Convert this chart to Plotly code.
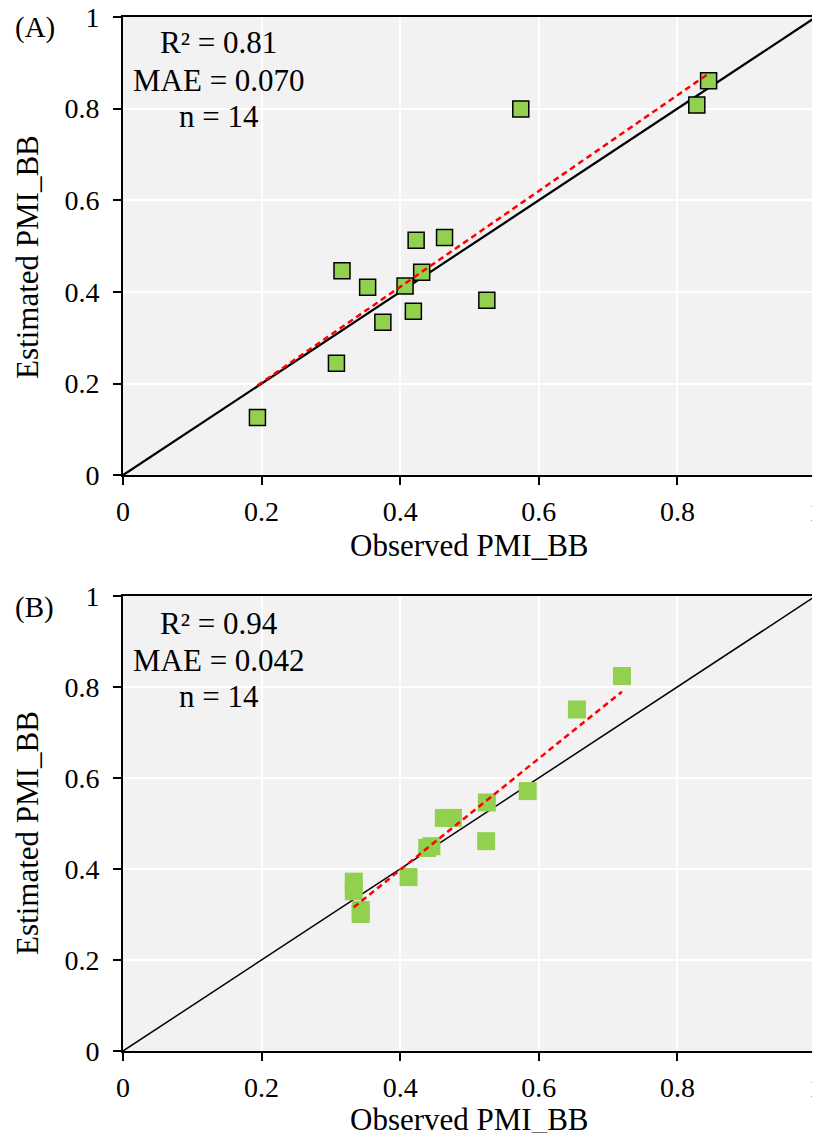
import numpy as np
import plotly.graph_objects as go

# Panel A data
obs_a = [0.194, 0.308, 0.316, 0.353, 0.375, 0.407, 0.419, 0.423, 0.431, 0.464, 0.525, 0.574, 0.828, 0.845]
est_a = [0.126, 0.244, 0.446, 0.410, 0.334, 0.413, 0.358, 0.513, 0.443, 0.519, 0.382, 0.799, 0.808, 0.861]
# Panel B data
obs_b = [0.333, 0.333, 0.343, 0.343, 0.412, 0.439, 0.445, 0.463, 0.476, 0.524, 0.525, 0.584, 0.655, 0.720]
est_b = [0.372, 0.351, 0.310, 0.301, 0.382, 0.446, 0.450, 0.512, 0.512, 0.461, 0.546, 0.571, 0.750, 0.824]

one_to_one = [0, 1]
tick_vals = [0, 0.2, 0.4, 0.6, 0.8, 1]
tick_text = ["0", "0.2", "0.4", "0.6", "0.8", "1"]
stats_a = ["R² = 0.81", "MAE = 0.070", "n = 14"]
stats_b = ["R² = 0.94", "MAE = 0.042", "n = 14"]
panel_labels = ["(A)", "(B)"]
x_title = "Observed PMI_BB"
y_title = "Estimated PMI_BB"

FONT = "Liberation Serif"
GREEN = "#92d050"


def trend(x, y):
    k, b = np.polyfit(x, y, 1)
    xs = [min(x), max(x)]
    return xs, [k * v + b for v in xs]


fig = go.Figure()

# Panel A
fig.add_trace(go.Scatter(x=one_to_one, y=one_to_one, mode="lines",
                         line=dict(color="black", width=2.2), xaxis="x", yaxis="y", showlegend=False))
tx, ty = trend(obs_a, est_a)
fig.add_trace(go.Scatter(x=obs_a, y=est_a, mode="markers",
                         marker=dict(symbol="square", size=16, color=GREEN,
                                     line=dict(color="black", width=1.5)),
                         xaxis="x", yaxis="y", showlegend=False))
fig.add_trace(go.Scatter(x=tx, y=ty, mode="lines",
                         line=dict(color="#ff0000", width=2.5, dash="6px,4px"),
                         xaxis="x", yaxis="y", showlegend=False))

# Panel B
fig.add_trace(go.Scatter(x=one_to_one, y=one_to_one, mode="lines",
                         line=dict(color="black", width=1.5), xaxis="x2", yaxis="y2", showlegend=False))
fig.add_trace(go.Scatter(x=obs_b, y=est_b, mode="markers",
                         marker=dict(symbol="square", size=18, color=GREEN, line=dict(width=0)),
                         xaxis="x2", yaxis="y2", showlegend=False))
tx, ty = trend(obs_b, est_b)
fig.add_trace(go.Scatter(x=tx, y=ty, mode="lines",
                         line=dict(color="#ff0000", width=2.5, dash="6px,4px"),
                         xaxis="x2", yaxis="y2", showlegend=False))

axis_common = dict(
    range=[0, 1], tickvals=tick_vals, ticktext=tick_text,
    showline=True, linecolor="black", linewidth=2, mirror=True,
    ticks="outside", ticklen=8, tickwidth=2, tickcolor="black",
    showgrid=True, gridcolor="white", gridwidth=2, zeroline=False,
    tickfont=dict(family=FONT, size=28, color="black"),
    automargin=False, ticklabeloverflow="allow",
)
xcommon = dict(axis_common, ticklabelstandoff=2)
ycommon = dict(axis_common, ticklabelstandoff=8)

# the page body has an 8px margin, so the figure is sized to fit inside the window
fig.update_layout(
    width=812, height=1125,
    margin=dict(l=115, r=4, t=9, b=82),
    paper_bgcolor="white", plot_bgcolor="#f2f2f2",
    font=dict(family=FONT, color="black"),
    xaxis=dict(domain=[0, 1], anchor="y", **xcommon),
    yaxis=dict(domain=[0.5569, 1], anchor="x", **ycommon),
    xaxis2=dict(domain=[0, 1], anchor="y2", **xcommon),
    yaxis2=dict(domain=[0, 0.4402], anchor="x2", **ycommon),
)

title_font = dict(family=FONT, size=31, color="black")
ann = []
for yref, xref, stats, lab, ys, ly in [("y domain", "x domain", stats_a, panel_labels[0], [0.945, 0.862, 0.782], 0.978),
                                        ("y2 domain", "x2 domain", stats_b, panel_labels[1], [0.940, 0.859, 0.778], 0.975)]:
    for txt, yy in zip(stats, ys):
        ann.append(dict(text=txt, x=0.1385, y=yy, xref=xref, yref=yref, showarrow=False,
                        xanchor="center", yanchor="middle", font=dict(family=FONT, size=31, color="black")))
    ann.append(dict(text=lab, x=-0.127, y=ly, xref=xref, yref=yref, showarrow=False,
                    xanchor="center", yanchor="middle", font=dict(family=FONT, size=29, color="black")))

# axis titles
for yy in [0.4884, -0.0665]:
    ann.append(dict(text=x_title, x=0.5, y=yy, xref="paper", yref="paper", showarrow=False,
                    xanchor="center", yanchor="middle", font=title_font))
for yy in [0.768, 0.211]:
    ann.append(dict(text=y_title, x=-0.137, y=yy, xref="paper", yref="paper", showarrow=False,
                    textangle=-90, xanchor="center", yanchor="middle", font=title_font))
fig.update_layout(annotations=ann)

fig.write_html("out.html")
